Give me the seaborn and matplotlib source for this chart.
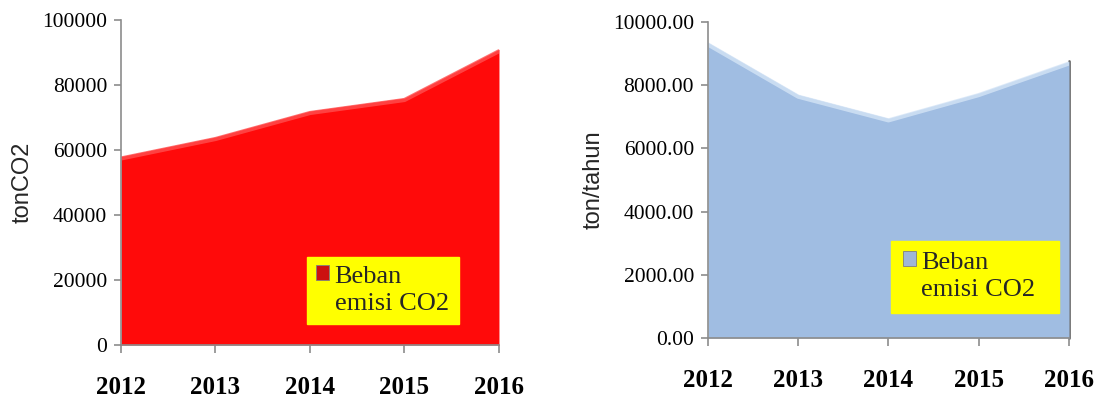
import matplotlib
matplotlib.use("Agg")
import matplotlib.pyplot as plt
import matplotlib.transforms as mtransforms
import seaborn as sns
import pandas as pd
from matplotlib.patches import Patch, Rectangle
from matplotlib.legend_handler import HandlerPatch

years = [2012, 2013, 2014, 2015, 2016]
emisi_ton_co2 = [58000, 64000, 72000, 76000, 91000]
emisi_ton_tahun = [9350, 7700, 6950, 7750, 8750]
legend_label = "Beban\nemisi CO2"

sns.set_theme(style="white")
plt.rcParams["font.family"] = ["Liberation Serif", "DejaVu Serif"]

fig = plt.figure(figsize=(11, 3.97), dpi=100)
ax1 = fig.add_axes([0.110, 0.131, 0.3436, 0.8186])
ax2 = fig.add_axes([0.6436, 0.1486, 0.3282, 0.796])


def first_line_square(legend, orig_handle, xdescent, ydescent, width, height, fontsize):
    # keep the legend key beside the first line of a two-line label
    return Rectangle((-xdescent, -ydescent + 0.66 * fontsize), width, height)


def area_panel(ax, values, fill, edge, ymax, step, fmt, ylabel, leg_box,
               handle_color, borderpad):
    df = pd.DataFrame({"tahun": years, "nilai": values})
    ax.fill_between(df["tahun"], 0, df["nilai"], color=fill, lw=0, zorder=1)
    # light bevel just inside the top edge of the area
    shifted = mtransforms.offset_copy(ax.transData, fig=fig, x=0, y=-2, units="dots")
    sns.lineplot(data=df, x="tahun", y="nilai", ax=ax, color=edge, lw=3,
                 alpha=0.8, zorder=2, transform=shifted)
    ax.set_xlim(years[0], years[-1])
    ax.set_ylim(0, ymax)
    ax.set_xticks(years)
    ax.set_xticklabels([str(y) for y in years], fontsize=18, fontweight="bold")
    yt = list(range(0, ymax + 1, step))
    ax.set_yticks(yt)
    ax.set_yticklabels([fmt.format(v) for v in yt], fontsize=15.5)
    ax.set_xlabel("")
    ax.set_ylabel(ylabel, fontsize=17, family=["Liberation Sans", "DejaVu Sans"],
                  labelpad=6)
    for side in ("top", "right"):
        ax.spines[side].set_visible(False)
    for side in ("left", "bottom"):
        ax.spines[side].set_color("#8c8c8c")
        ax.spines[side].set_linewidth(1.2)
    ax.tick_params(axis="x", direction="out", length=6, width=1.2,
                   color="#8c8c8c", pad=16, bottom=True, labelcolor="black")
    ax.tick_params(axis="y", direction="out", length=5, width=1.2,
                   color="#8c8c8c", pad=5, left=True, labelcolor="black")
    ax.grid(False)
    ax.set_facecolor("white")

    handle = Patch(facecolor=handle_color, edgecolor="#7f7f7f", lw=0.6)
    leg = ax.legend([handle], [legend_label], loc="lower left",
                    bbox_to_anchor=leg_box, mode="expand", frameon=True,
                    fontsize=19, handlelength=0.5, handleheight=0.5,
                    handletextpad=0.2, borderpad=borderpad, borderaxespad=0,
                    fancybox=False,
                    handler_map={Patch: HandlerPatch(patch_func=first_line_square)})
    leg.get_frame().set_facecolor("#ffff00")
    leg.get_frame().set_edgecolor("#ffff00")
    leg.get_frame().set_alpha(1)
    for t in leg.get_texts():
        t.set_linespacing(1.28)


area_panel(ax1, emisi_ton_co2, "#ff0a0a", "#ff5050", 100000, 20000, "{:d}",
           "tonCO2", (0.492, 0.0646, 0.402, 0.21), "#cc1010", 0.35)
area_panel(ax2, emisi_ton_tahun, "#a0bde2", "#d4e4f6", 10000, 2000, "{:.2f}",
           "ton/tahun", (0.507, 0.079, 0.465, 0.234), "#9fb6d6", 0.45)

# soft shadow on the right edge of the blue area
ax2.plot([years[-1], years[-1]], [0, emisi_ton_tahun[-1]], color="#6d6d6d",
         lw=2, zorder=0, clip_on=False)

fig.savefig("out.png", dpi=100)
